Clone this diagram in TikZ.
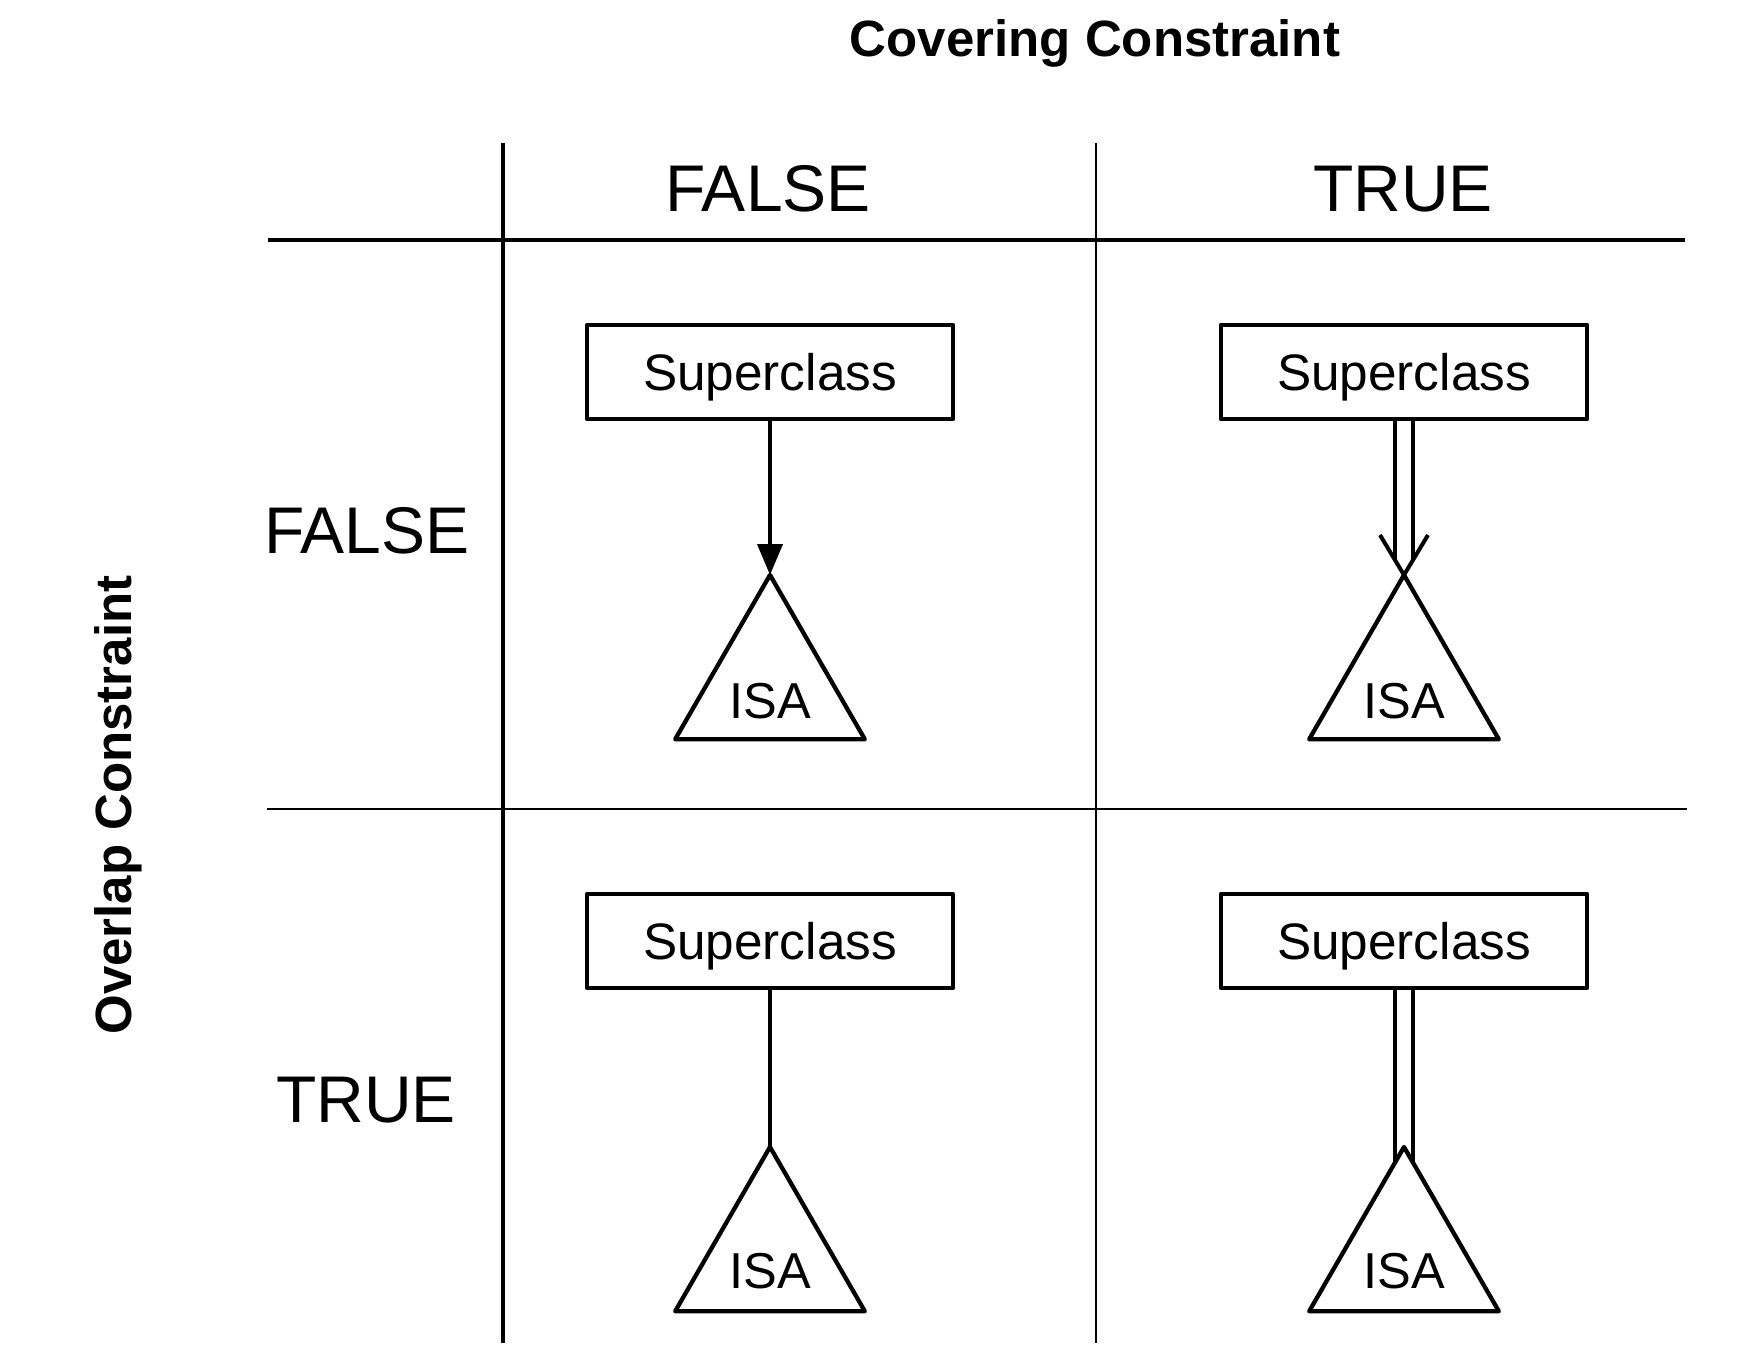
\documentclass[tikz,border=0pt]{standalone}
\usepackage{fontspec}
\setmainfont{Liberation Sans}
\usetikzlibrary{arrows.meta,shapes.geometric,backgrounds}
\tikzset{
  thickrule/.style={line width=4.7pt},
  thinrule/.style={line width=2.8pt},
  superbox/.style={draw, line width=4.3pt, line join=round, minimum width=366pt,
    minimum height=94pt, inner sep=0pt, text height=37pt, text depth=0pt,
    font=\fontsize{51.3}{60}\selectfont},
  isatri/.style={draw, fill=white, regular polygon, regular polygon sides=3,
    minimum size=219pt, inner sep=0pt, outer sep=0pt, line width=4.3pt, line join=round},
  isalabel/.style={font=\fontsize{50.5}{60}\selectfont, inner sep=0pt,
    text height=36.5pt, text depth=0pt},
  headlabel/.style={font=\fontsize{66}{80}\selectfont, anchor=base, inner sep=0pt},
  titlelabel/.style={font=\bfseries\fontsize{51}{60}\selectfont, anchor=base, inner sep=0pt},
  link/.style={line width=4pt},
  totallink/.style={line width=4pt, double=white, double distance=13.3pt},
}
\begin{document}
\begin{tikzpicture}[x=1pt,y=-1pt]
\useasboundingbox (0,0) rectangle (1738,1356);
% titles
\node[titlelabel] (cov) at (1095,57) {Covering Constraint};
\node[titlelabel, rotate=90] (ovl) at (131,805) {Overlap Constraint};
\node[headlabel] (hf) at (768,212) {FALSE};
\node[headlabel] (ht) at (1403,212) {TRUE};
\node[headlabel] (rf) at (367,553) {FALSE};
\node[headlabel] (rt) at (366,1122) {TRUE};
% grid
\coordinate (vt1) at (503,143);
\coordinate (vb1) at (503,1343);
\coordinate (vt2) at (1096,143);
\coordinate (vb2) at (1096,1343);
\coordinate (hl1) at (268,240);
\coordinate (hr1) at (1685,240);
\coordinate (hl2) at (267,809);
\coordinate (hr2) at (1687,809);
\draw[thickrule] (vt1) -- (vb1);
\draw[thinrule] (vt2) -- (vb2);
\draw[thickrule] (hl1) -- (hr1);
\draw[thinrule] (hl2) -- (hr2);
% boxes
\node[superbox] (b1) at (770,372) {Superclass};
\node[superbox] (b2) at (1404,372) {Superclass};
\node[superbox] (b3) at (770,941) {Superclass};
\node[superbox] (b4) at (1404,941) {Superclass};
% triangles
\node[isatri] (i1) at (770,684.5) {};
\node[isatri] (i2) at (1404,684.5) {};
\node[isatri] (i3) at (770,1256.5) {};
\node[isatri] (i4) at (1404,1256.5) {};
\node[isalabel] (l1) at (770,700) {ISA};
\node[isalabel] (l2) at (1404,700) {ISA};
\node[isalabel] (l3) at (770,1270) {ISA};
\node[isalabel] (l4) at (1404,1270) {ISA};
% connectors
\begin{scope}[on background layer]
\draw[link, -{Triangle[length=31pt,width=25pt]}] (b1) -- (i1.corner 1);
\draw[totallink, shorten >=14pt] (b2) -- (i2.corner 1);
\draw[link] (b3) -- (i3.corner 1);
\draw[totallink, shorten >=-16pt] (b4) -- (i4.corner 1);
\end{scope}
\draw[link] ([shift={(-24,-40)}]i2.corner 1) -- (i2.corner 1) -- ([shift={(24,-40)}]i2.corner 1);
\end{tikzpicture}
\end{document}
